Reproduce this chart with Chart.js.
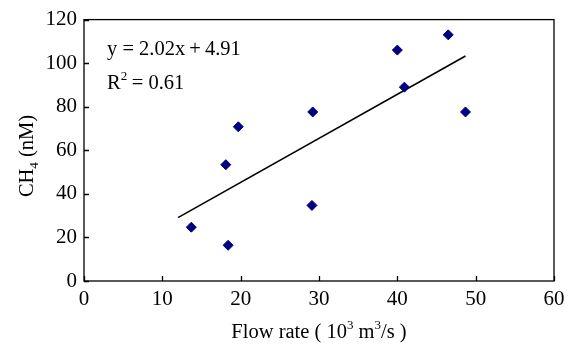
<!DOCTYPE html>
<html>
<head>
<meta charset="utf-8">
<script src="https://cdn.jsdelivr.net/npm/chart.js@4/dist/chart.umd.min.js"></script>
<style>
  html, body { margin: 0; padding: 0; background: #fff; }
  #wrap { width: 574px; height: 345px; }
</style>
</head>
<body>
<div id="wrap"><canvas id="flowChart"></canvas></div>
<script>
// flow rate (10^3 m3/s) vs CH4 (nM)
const flowRate = [13.7, 18.4, 18.1, 19.7, 29.2, 29.1, 40.0, 40.9, 46.5, 48.7];
const ch4 = [24.7, 16.4, 53.4, 70.8, 77.6, 34.7, 106, 89, 113, 77.6];
const trendX = [12.0, 48.7];
const trendY = [29.1, 103.3];
const xTicks = [0, 10, 20, 30, 40, 50, 60];
const yTicks = [0, 20, 40, 60, 80, 100, 120];

const serif = '"Liberation Serif", "Times New Roman", serif';

function richText(ctx, parts, x, y, size) {
    // parts: [text, mode] mode: '' | 'sup' | 'sub'
    let total = 0;
    const widths = parts.map(p => {
        ctx.font = (p[1] ? Math.round(size * 0.62) : size) + 'px ' + serif;
        const w = ctx.measureText(p[0]).width;
        total += w;
        return w;
    });
    let cx = x - total / 2;
    parts.forEach((p, i) => {
        ctx.font = (p[1] ? Math.round(size * 0.62) : size) + 'px ' + serif;
        let dy = 0;
        if (p[1] === 'sup') dy = -size * 0.42;
        if (p[1] === 'sub') dy = size * 0.22;
        ctx.fillText(p[0], cx, y + dy);
        cx += widths[i];
    });
}

const decorations = {
    id: 'decorations',
    afterDraw(chart) {
        const ctx = chart.ctx;
        const area = chart.chartArea;
        const xs = chart.scales.x, ys = chart.scales.y;
        ctx.save();
        ctx.strokeStyle = '#000';
        ctx.lineWidth = 1.3;
        ctx.strokeRect(area.left, area.top, area.right - area.left, area.bottom - area.top);
        // inside ticks
        ctx.beginPath();
        xTicks.forEach(v => {
            const px = Math.round(xs.getPixelForValue(v)) + 0.5;
            ctx.moveTo(px, area.bottom);
            ctx.lineTo(px, area.bottom - 5);
        });
        yTicks.forEach(v => {
            const py = Math.round(ys.getPixelForValue(v)) + 0.5;
            ctx.moveTo(area.left, py);
            ctx.lineTo(area.left + 5, py);
        });
        ctx.stroke();

        ctx.fillStyle = '#000';
        ctx.textAlign = 'left';
        ctx.textBaseline = 'alphabetic';
        // x title
        richText(ctx, [['Flow rate ( 10', ''], ['3', 'sup'], [' m', ''], ['3', 'sup'], ['/s )', '']],
            (area.left + area.right) / 2, 338, 20.5);
        // y title
        ctx.save();
        ctx.translate(33, 156);
        ctx.rotate(-Math.PI / 2);
        richText(ctx, [['CH', ''], ['4', 'sub'], [' (nM)', '']], 0, 0, 20.5);
        ctx.restore();
        // equation
        ctx.font = '20.5px ' + serif;
        ctx.fillText('y = 2.02x\u2009+\u20094.91', 107, 55);
        ctx.fillText('R', 107, 89);
        const rw = ctx.measureText('R').width;
        ctx.font = '13px ' + serif;
        ctx.fillText('2', 107 + rw, 80);
        ctx.font = '20.5px ' + serif;
        ctx.fillText(' = 0.61', 107 + rw + 6, 89);
        ctx.restore();
    }
};

new Chart(document.getElementById('flowChart'), {
    type: 'scatter',
    data: {
        datasets: [
            {
                label: 'CH4',
                data: flowRate.map((x, i) => ({ x: x, y: ch4[i] })),
                pointStyle: 'rectRot',
                pointRadius: 5,
                pointBorderWidth: 1,
                backgroundColor: '#000080',
                borderColor: '#000080'
            },
            {
                label: 'Linear',
                type: 'line',
                data: trendX.map((x, i) => ({ x: x, y: trendY[i] })),
                borderColor: '#000',
                borderWidth: 1.6,
                pointRadius: 0,
                fill: false
            }
        ]
    },
    options: {
        responsive: true,
        maintainAspectRatio: false,
        animation: false,
        layout: { padding: { left: 0, top: 18, right: 20, bottom: 0 } },
        plugins: { legend: { display: false }, tooltip: { enabled: false } },
        scales: {
            x: {
                type: 'linear',
                min: 0, max: 60,
                afterBuildTicks: s => { s.ticks = xTicks.map(v => ({ value: v })); },
                afterFit: s => { s.height = 64; },
                grid: { display: false, drawTicks: false },
                border: { display: false },
                ticks: { color: '#000', padding: 6, font: { family: serif, size: 21 } }
            },
            y: {
                min: 0, max: 120,
                afterBuildTicks: s => { s.ticks = yTicks.map(v => ({ value: v })); },
                afterFit: s => { s.width = 84; },
                grid: { display: false, drawTicks: false },
                border: { display: false },
                ticks: { color: '#000', padding: 7, font: { family: serif, size: 21 } }
            }
        }
    },
    plugins: [decorations]
});
</script>
</body>
</html>
